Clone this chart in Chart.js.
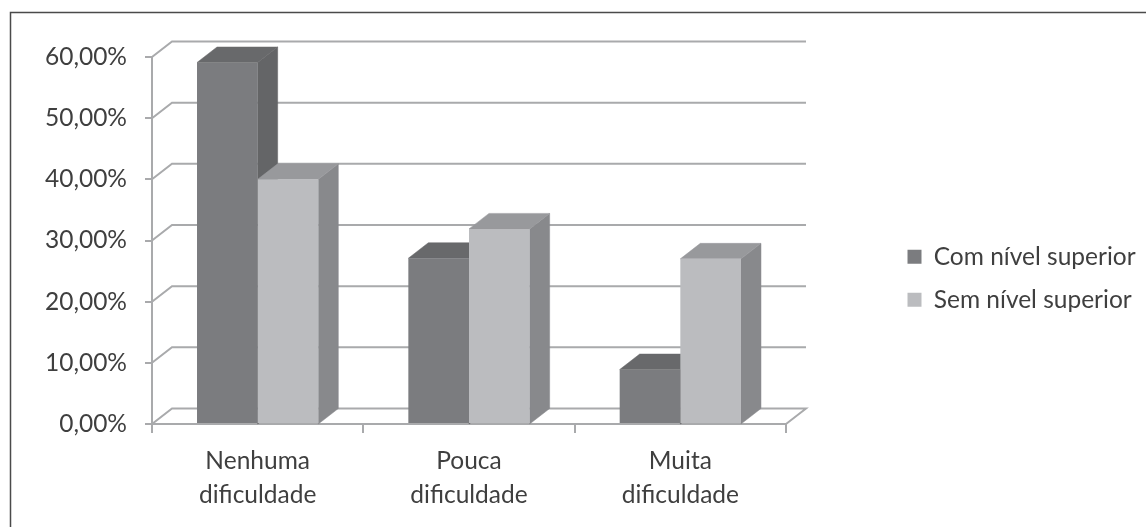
<!DOCTYPE html>
<html lang="pt">
<head>
<meta charset="utf-8">
<title>Dificuldade por nível de escolaridade</title>
<script src="https://cdn.jsdelivr.net/npm/chart.js@4"></script>
<style>
  html, body { margin: 0; padding: 0; background: #fff; }
  #wrap { position: relative; width: 1146px; height: 527px; }
</style>
</head>
<body>
<div id="wrap"><canvas id="c" width="1146" height="527"></canvas></div>
<script>
const categories = [['Nenhuma', 'dificuldade'], ['Pouca', 'dificuldade'], ['Muita', 'dificuldade']];
const seriesNames = ['Com nível superior', 'Sem nível superior'];
const comSuperior = [59.1, 27.1, 8.9];
const semSuperior = [40.0, 31.9, 27.0];
const yTicks = [0, 10, 20, 30, 40, 50, 60];

const FONT = 'Lato, sans-serif';
const FONT_SIZE = 24.5;
const TEXT = '#3f3f3f';
const GRID = '#a9aaac';
const DEPTH_X = 20;
const DEPTH_Y = 15.5;

const faces = [
  { front: '#7b7c7f', side: '#646567', top: '#68696b' },
  { front: '#bbbcbf', side: '#88898c', top: '#98999c' }
];

function poly(ctx, pts, fill) {
  ctx.beginPath();
  pts.forEach((p, i) => i ? ctx.lineTo(p[0], p[1]) : ctx.moveTo(p[0], p[1]));
  ctx.closePath();
  ctx.fillStyle = fill;
  ctx.fill();
  ctx.strokeStyle = fill;
  ctx.lineWidth = 0.5;
  ctx.stroke();
}

// Pseudo-3D walls, floor and bar depth, projected from the chart's own scales.
const depthPlugin = {
  id: 'depth',
  beforeLayout(chart) {
    // Reserve a fixed strip on the right so the plot keeps its width.
    const lg = chart.legend;
    if (!lg._fixedStrip) {
      const fit = lg.fit;
      lg.fit = function () { fit.call(this); this.width = 360; };
      lg._fixedStrip = true;
    }
  },
  afterLayout(chart) {
    const lg = chart.legend;
    const h = lg.bottom - lg.top;
    lg.left = 889;
    lg.right = 1146;
    lg.top = 226;
    lg.bottom = lg.top + h;
  },
  beforeDatasetsDraw(chart) {
    const { ctx, scales: { x, y } } = chart;
    const L = x.left, R = x.right;
    ctx.save();
    ctx.strokeStyle = GRID;
    ctx.lineWidth = 2;
    yTicks.forEach(v => {
      const py = y.getPixelForValue(v);
      ctx.beginPath();
      ctx.moveTo(L, py);
      ctx.lineTo(L + DEPTH_X, py - DEPTH_Y);
      ctx.lineTo(R + DEPTH_X, py - DEPTH_Y);
      if (v === 0) ctx.lineTo(R, py);
      ctx.stroke();
    });
    chart.data.labels.forEach((_, i) => {
      chart.data.datasets.forEach((ds, d) => {
        const bar = chart.getDatasetMeta(d).data[i];
        const half = bar.width / 2;
        const xl = bar.x - half, xr = bar.x + half;
        const yt = bar.y, yb = y.getPixelForValue(0);
        poly(ctx, [[xr, yt], [xr + DEPTH_X, yt - DEPTH_Y], [xr + DEPTH_X, yb - DEPTH_Y], [xr, yb]], faces[d].side);
        poly(ctx, [[xl, yt], [xl + DEPTH_X, yt - DEPTH_Y], [xr + DEPTH_X, yt - DEPTH_Y], [xr, yt]], faces[d].top);
      });
    });
    ctx.restore();
  },
  afterDraw(chart) {
    // Frame around the figure: top and left edges only.
    const { ctx, width, height } = chart;
    ctx.save();
    ctx.strokeStyle = '#4a4a4a';
    ctx.lineWidth = 1.5;
    ctx.beginPath();
    ctx.moveTo(width, 12.5);
    ctx.lineTo(10.5, 12.5);
    ctx.lineTo(10.5, height);
    ctx.stroke();
    ctx.restore();
  }
};

const canvas = document.getElementById('c');
// A little tracking keeps "fi" as two separate letters in the labels.
canvas.getContext('2d').letterSpacing = '0.5px';

new Chart(canvas, {
  type: 'bar',
  data: {
    labels: categories,
    datasets: [
      { label: seriesNames[0], data: comSuperior, backgroundColor: faces[0].front, categoryPercentage: 0.574, barPercentage: 1 },
      { label: seriesNames[1], data: semSuperior, backgroundColor: faces[1].front, categoryPercentage: 0.574, barPercentage: 1 }
    ]
  },
  options: {
    responsive: false,
    animation: false,
    events: [],
    layout: { padding: { top: 57, left: 0, right: 0, bottom: 0 } },
    plugins: {
      tooltip: { enabled: false },
      title: { display: false },
      legend: {
        position: 'right',
        align: 'start',
        labels: {
          font: { family: FONT, size: FONT_SIZE },
          color: TEXT,
          boxWidth: 14,
          boxHeight: 14,
          padding: 18.5
        }
      }
    },
    scales: {
      x: {
        afterFit(s) { s.height = 103; },
        border: { color: GRID, width: 2 },
        grid: { color: GRID, lineWidth: 2, drawOnChartArea: false, tickLength: 9 },
        ticks: { font: { family: FONT, size: FONT_SIZE, lineHeight: 1.39 }, color: TEXT, padding: 11, maxRotation: 0 }
      },
      y: {
        min: 0,
        max: 60,
        afterFit(s) { s.width = 152; },
        border: { color: GRID, width: 2 },
        grid: { color: GRID, lineWidth: 2, drawOnChartArea: false, tickLength: 7 },
        ticks: {
          stepSize: 10,
          font: { family: FONT, size: FONT_SIZE },
          color: TEXT,
          padding: 18,
          callback: v => v.toFixed(2).replace('.', ',') + '%'
        }
      }
    }
  },
  plugins: [depthPlugin]
});
</script>
</body>
</html>
